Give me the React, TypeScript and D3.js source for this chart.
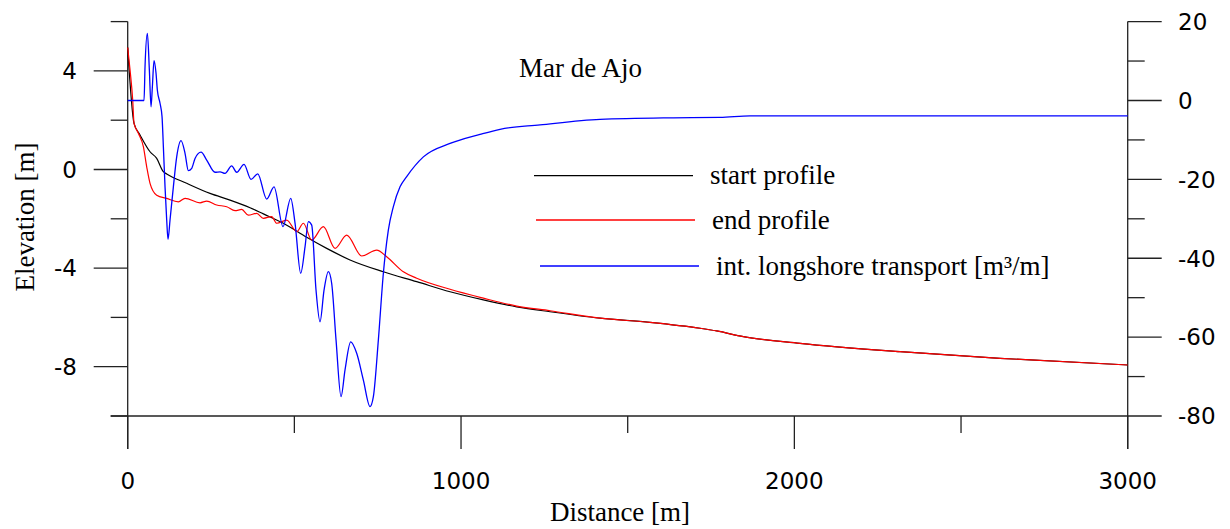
import React from "react";
import * as d3 from "d3";

// Start profile (distance [m], elevation [m])
const startDist = [0, 19, 37, 67, 87, 107, 117, 177, 247, 307, 367, 407, 467, 537, 597, 667, 767, 867, 967, 1067, 1167, 1267, 1417, 1567, 1717, 1767, 1847, 2017, 2317, 2617, 3000];
const startElev = [4.95, 1.87, 1.4, 0.72, 0.45, -0.09, -0.18, -0.56, -0.97, -1.24, -1.55, -1.8, -2.18, -2.75, -3.2, -3.67, -4.15, -4.55, -4.96, -5.29, -5.57, -5.77, -6.03, -6.2, -6.44, -6.55, -6.78, -7.05, -7.39, -7.66, -7.93];

// End profile (distance [m], elevation [m])
const endDist = [0, 7, 15, 19, 32, 47, 57, 67, 87, 117, 152, 172, 217, 237, 267, 297, 322, 342, 362, 387, 407, 432, 447, 477, 507, 527, 552, 587, 622, 657, 702, 747, 777, 827, 867, 967, 1067, 1167, 1267, 1417, 1567, 1717, 1767, 1847, 2017, 2317, 2617, 3000];
const endElev = [4.95, 4.04, 2.82, 1.87, 1.47, 0.93, 0.11, -0.56, -1.04, -1.17, -1.31, -1.17, -1.35, -1.28, -1.44, -1.51, -1.67, -1.62, -1.85, -1.78, -1.98, -1.91, -2.18, -2.05, -2.52, -2.18, -2.86, -2.32, -3.2, -2.66, -3.51, -3.27, -3.54, -4.15, -4.41, -4.86, -5.22, -5.54, -5.73, -6.03, -6.2, -6.44, -6.55, -6.78, -7.05, -7.39, -7.66, -7.93];

// Integrated longshore transport (distance [m], m³/m)
const transportDist = [0, 49, 52, 59, 65, 70, 74, 79, 85, 89, 97, 103, 107, 112, 117, 121, 127, 137, 147, 160, 172, 182, 192, 202, 220, 237, 262, 277, 292, 312, 327, 349, 370, 390, 417, 439, 466, 489, 502, 519, 532, 542, 552, 565, 577, 589, 602, 612, 625, 640, 652, 669, 687, 707, 727, 737, 752, 767, 782, 797, 817, 837, 887, 967, 1057, 1117, 1237, 1417, 1637, 1777, 1867, 3000];
const transportVal = [0, 0, 8.6, 17.0, 7.7, -1.6, 3.5, 10.1, 6.9, 2.6, -0.7, -4.1, -11.7, -21.9, -30.3, -35.2, -30.3, -21.9, -14.3, -10.2, -13.4, -17.8, -17.2, -14.7, -13.1, -15.1, -18.2, -18.1, -18.5, -16.6, -18.2, -16.2, -20.0, -18.6, -25.0, -21.9, -32.0, -24.8, -31.1, -43.8, -37.1, -30.7, -31.6, -48.1, -56.1, -48.1, -43.4, -46.4, -60.7, -75.1, -68.3, -61.2, -64.1, -70.9, -77.6, -75.1, -60.7, -43.8, -32.8, -26.9, -21.9, -19.3, -14.3, -10.9, -8.6, -7.3, -6.2, -4.8, -4.4, -4.3, -3.9, -3.9];

// Tick values
const xTicks = [0, 500, 1000, 1500, 2000, 2500, 3000];
const xLabels = [0, 1000, 2000, 3000];
const leftTicks = [-10, -8, -6, -4, -2, 0, 2, 4, 6];
const leftLabels = [-8, -4, 0, 4];
const rightTicks = [-80, -70, -60, -50, -40, -30, -20, -10, 0, 10, 20];
const rightLabels = [-80, -60, -40, -20, 0, 20];

const legendItems = [
  { label: "start profile", color: "#000000" },
  { label: "end profile", color: "#ff0000" },
  { label: "int. longshore transport [m³/m]", color: "#0000ff" },
];

const W = 1230;
const H = 529;
const serif = "'Liberation Serif', 'Times New Roman', serif";
const sans = "'DejaVu Sans', Verdana, sans-serif";
const axisColor = "#222";

export default function App() {
  const x = d3.scaleLinear().domain([0, 3000]).range([127.7, 1127.7]);
  const yL = d3.scaleLinear().domain([-10, 6]).range([416, 21.6]);
  const yR = d3.scaleLinear().domain([-80, 20]).range([416, 21.6]);

  const profileLine = d3
    .line<[number, number]>()
    .x((d) => x(d[0]))
    .y((d) => yL(d[1]))
    .curve(d3.curveMonotoneX);
  const transportLine = d3
    .line<[number, number]>()
    .x((d) => x(d[0]))
    .y((d) => yR(d[1]))
    .curve(d3.curveMonotoneX);

  const startPts = startDist.map((d, i) => [d, startElev[i]] as [number, number]);
  const endPts = endDist.map((d, i) => [d, endElev[i]] as [number, number]);
  const transPts = transportDist.map((d, i) => [d, transportVal[i]] as [number, number]);

  const x0 = x(0);
  const x1 = x(3000);
  const yBase = yL(-10);
  const yTop = yL(6);
  const major = 34;
  const minor = 17;

  return (
    <svg width={W} height={H} style={{ position: "absolute", left: 0, top: 0, background: "#fff" }}>
      <rect x={0} y={0} width={W} height={H} fill="#fff" />

      {/* axis frame */}
      <g stroke={axisColor} strokeWidth={1.3} fill="none">
        <line x1={x0} y1={yTop} x2={x0} y2={yBase + 33} />
        <line x1={x1} y1={yTop} x2={x1} y2={yBase + 33} />
        <line x1={x0 - minor} y1={yBase} x2={x1} y2={yBase} />
        {leftTicks.map((v) => (
          <line key={"l" + v} x1={x0 - (leftLabels.includes(v) ? major : minor)} x2={x0} y1={yL(v)} y2={yL(v)} />
        ))}
        {rightTicks.map((v) => (
          <line key={"r" + v} x1={x1} x2={x1 + (rightLabels.includes(v) ? major : minor)} y1={yR(v)} y2={yR(v)} />
        ))}
        {xTicks.map((v) => (
          <line key={"x" + v} x1={x(v)} x2={x(v)} y1={yBase} y2={yBase + (xLabels.includes(v) ? 33 : 17)} />
        ))}
      </g>

      {/* tick labels */}
      <g fontFamily={sans} fontSize={23} fill="#000">
        {leftLabels.map((v) => (
          <text key={"ll" + v} x={77} y={yL(v)} dy="0.36em" textAnchor="end">
            {String(v)}
          </text>
        ))}
        {rightLabels.map((v) => (
          <text key={"rl" + v} x={1178} y={yR(v)} dy="0.36em" textAnchor="start">
            {String(v)}
          </text>
        ))}
        {xLabels.map((v) => (
          <text key={"xl" + v} x={x(v)} y={489} textAnchor="middle">
            {String(v)}
          </text>
        ))}
      </g>

      {/* axis titles and chart title */}
      <g fontFamily={serif} fontSize={27} fill="#000">
        <text x={620} y={521} textAnchor="middle">Distance [m]</text>
        <text transform="translate(34,217) rotate(-90)" textAnchor="middle">Elevation [m]</text>
        <text x={519} y={77}>Mar de Ajo</text>
      </g>

      {/* data */}
      <path d={profileLine(startPts) ?? ""} fill="none" stroke="#000" strokeWidth={1.2} />
      <path d={profileLine(endPts) ?? ""} fill="none" stroke="#ff0000" strokeWidth={1.2} />
      <path d={transportLine(transPts) ?? ""} fill="none" stroke="#0000ff" strokeWidth={1.3} />

      {/* legend */}
      <g fontFamily={serif} fontSize={27} fill="#000">
        {legendItems.map((item, i) => {
          const ly = [175.7, 220, 266][i];
          const lx = [534, 536, 540][i];
          return (
            <g key={item.label}>
              <line x1={lx} x2={lx + 159} y1={ly} y2={ly} stroke={item.color} strokeWidth={1.3} />
              <text x={lx + 176} y={ly + 8.5}>{item.label}</text>
            </g>
          );
        })}
      </g>
    </svg>
  );
}
